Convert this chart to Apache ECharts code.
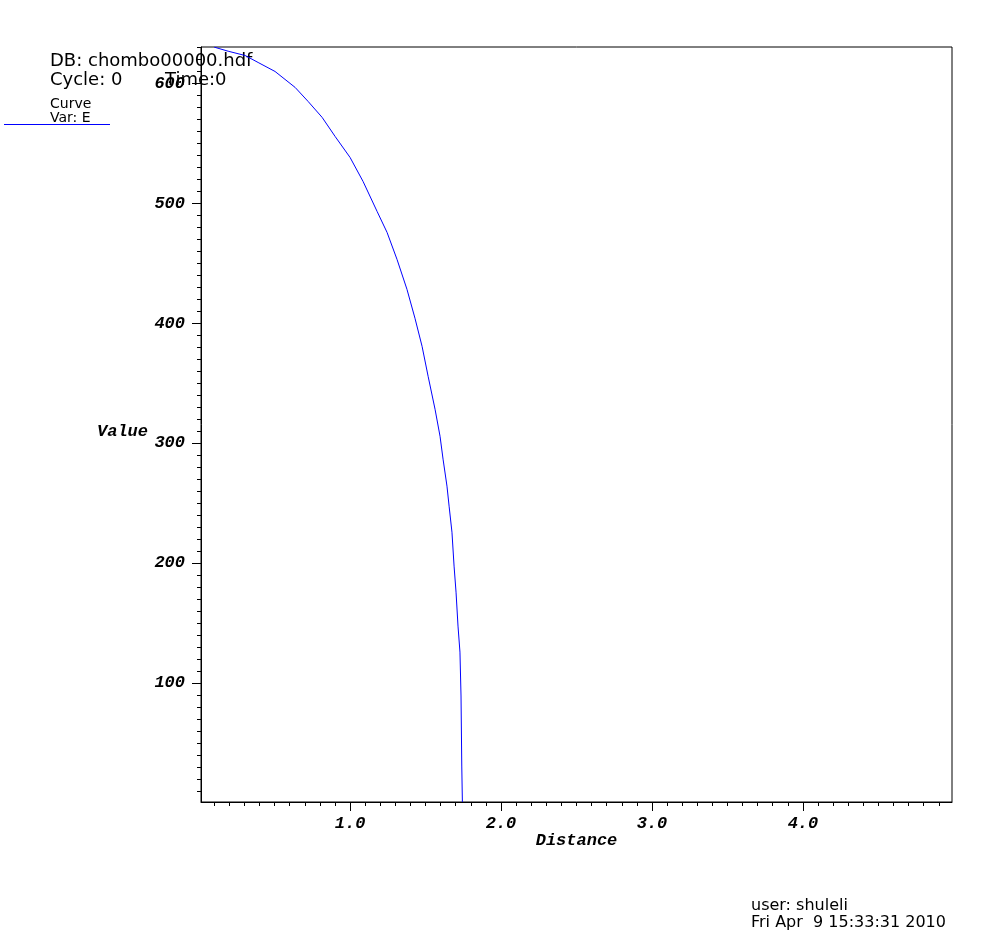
<!DOCTYPE html>
<html>
<head>
<meta charset="utf-8">
<script src="https://cdn.jsdelivr.net/npm/echarts@6/dist/echarts.min.js"></script>
<style>html,body{margin:0;padding:0;background:#fff;}#c{width:1003px;height:944px;}</style>
</head>
<body>
<div id="c"></div>
<script>
// Curve "E": distance vs value
const distance = [0.100, 0.192, 0.305, 0.391, 0.503, 0.636, 0.722, 0.815, 0.901, 1.000,
  1.086, 1.179, 1.245, 1.311, 1.377, 1.430, 1.477, 1.517, 1.563, 1.596,
  1.616, 1.642, 1.656, 1.675, 1.689, 1.702, 1.715, 1.728, 1.735, 1.740, 1.744];
const energy = [630.3, 626.9, 623.3, 617.5, 610.0, 596.7, 585.0, 571.7, 555.8, 538.3,
  518.3, 493.3, 475.8, 453.3, 428.3, 404.2, 380.8, 355.8, 328.3, 305.8,
  286.7, 264.2, 247.5, 225.8, 197.5, 175.8, 147.5, 125.8, 89.2, 30.8, 0.8];

const xMajorTicks = [1.0, 2.0, 3.0, 4.0];
const yMajorTicks = [100, 200, 300, 400, 500, 600];
const xRange = [0.0125, 4.9875];
const yRange = [0.8, 630.4];

const xMinorTicks = [];
for (let i = 1; i <= 49; i++) xMinorTicks.push(+(i * 0.1).toFixed(1));
const yMinorTicks = [];
for (let v = 10; v <= 630; v += 10) yMinorTicks.push(v);

const headerLines = {
  db: 'DB: chombo00000.hdf',
  cycle: 'Cycle: 0',
  time: 'Time:0',
  curve: 'Curve',
  varName: 'Var: E',
  user: 'user: shuleli',
  date: 'Fri Apr  9 15:33:31 2010'
};

const labelFont = { fontFamily: 'Liberation Mono', fontWeight: 'bold', fontStyle: 'italic', fontSize: 17, color: '#000' };
const sans = 'DejaVu Sans';

const chart = echarts.init(document.getElementById('c'), null, { renderer: 'canvas' });
chart.setOption({
  animation: false,
  backgroundColor: '#fff',
  grid: { left: 201, top: 47, right: 51, bottom: 142, show: true, borderColor: '#000', borderWidth: 1, backgroundColor: 'transparent' },
  xAxis: [{
    type: 'value', min: xRange[0], max: xRange[1], position: 'bottom',
    name: 'Distance', nameLocation: 'middle', nameGap: 30, nameMoveOverlap: false,
    nameTextStyle: Object.assign({}, labelFont),
    axisLine: { show: true, onZero: false, lineStyle: { color: '#000', width: 1 } },
    axisTick: { show: true, length: 9, customValues: xMajorTicks, lineStyle: { color: '#000' } },
    axisLabel: { show: true, margin: 13, customValues: xMajorTicks, formatter: v => v.toFixed(1), ...labelFont },
    splitLine: { show: false }
  }, {
    type: 'value', min: xRange[0], max: xRange[1], position: 'bottom',
    axisLine: { show: false },
    axisTick: { show: true, length: 4, customValues: xMinorTicks, lineStyle: { color: '#000' } },
    axisLabel: { show: false }, splitLine: { show: false }
  }],
  yAxis: [{
    type: 'value', min: yRange[0], max: yRange[1], position: 'left',
    axisLine: { show: true, onZero: false, lineStyle: { color: '#000', width: 1 } },
    axisTick: { show: true, length: 9, customValues: yMajorTicks, lineStyle: { color: '#000' } },
    axisLabel: { show: true, margin: 16, customValues: yMajorTicks, ...labelFont },
    splitLine: { show: false }
  }, {
    type: 'value', min: yRange[0], max: yRange[1], position: 'left',
    axisLine: { show: false },
    axisTick: { show: true, length: 4, customValues: yMinorTicks, lineStyle: { color: '#000' } },
    axisLabel: { show: false }, splitLine: { show: false }
  }],
  series: [{
    name: 'E', type: 'line', xAxisIndex: 0, yAxisIndex: 0,
    data: distance.map((d, i) => [d, energy[i]]),
    showSymbol: false, symbol: 'none', smooth: false, clip: true,
    lineStyle: { color: '#0000ff', width: 1 }
  }],
  graphic: [
    { type: 'text', left: 97, top: 423, style: { text: 'Value', font: 'italic bold 17px "Liberation Mono"', fill: '#000' } },
    { type: 'text', x: 50, y: 61, style: { text: headerLines.db, font: '18px "' + sans + '"', fill: '#000', verticalAlign: 'middle' } },
    { type: 'text', x: 50, y: 80, style: { text: headerLines.cycle, font: '18px "' + sans + '"', fill: '#000', verticalAlign: 'middle' } },
    { type: 'text', x: 165, y: 80, style: { text: headerLines.time, font: '18px "' + sans + '"', fill: '#000', verticalAlign: 'middle' } },
    { type: 'text', x: 50, y: 104, style: { text: headerLines.curve, font: '14px "' + sans + '"', fill: '#000', verticalAlign: 'middle' } },
    { type: 'text', x: 50, y: 118, style: { text: headerLines.varName, font: '14px "' + sans + '"', fill: '#000', verticalAlign: 'middle' } },
    { type: 'line', shape: { x1: 4, y1: 124.5, x2: 110, y2: 124.5 }, style: { stroke: '#0000ff', lineWidth: 1 } },
    { type: 'text', x: 751, y: 906, style: { text: headerLines.user, font: '16px "' + sans + '"', fill: '#000', verticalAlign: 'middle' } },
    { type: 'text', x: 751, y: 923, style: { text: headerLines.date, font: '16px "' + sans + '"', fill: '#000', verticalAlign: 'middle' } }
  ]
});
</script>
</body>
</html>
